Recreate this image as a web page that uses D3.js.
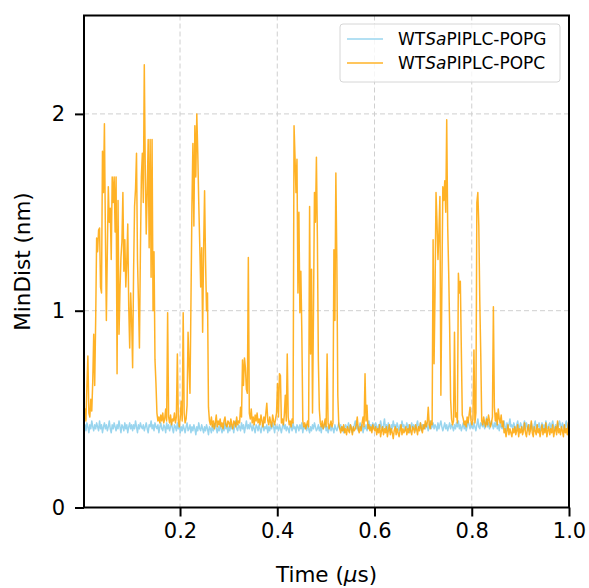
<!DOCTYPE html>
<html lang="en">
<head>
    <meta charset="UTF-8">
    <style>
        body { margin: 0; background: #fff; }
        svg text { font-family: "DejaVu Sans", sans-serif; fill: #000; }
    </style>
    <script src="https://d3js.org/d3.v7.min.js"></script>
</head>
<body>
    <div id="chart"></div>

    <script>
        // sampling of the trajectories (μs)
        var tStart = 0.0025;
        var tStep = 0.002;

        var xTicks = [0.2, 0.4, 0.6, 0.8, 1.0];
        var yTicks = [0, 1, 2];

        // MinDist (nm), POPG membrane
        var popg = [
            0.40,0.42,0.39,0.43,0.41,0.38,0.42,0.40,0.44,0.41,
            0.39,0.42,0.40,0.43,0.41,0.39,0.44,0.40,0.42,0.38,
            0.41,0.43,0.40,0.42,0.39,0.41,0.44,0.40,0.38,0.42,
            0.40,0.43,0.41,0.39,0.42,0.40,0.44,0.41,0.38,0.42,
            0.41,0.39,0.43,0.40,0.42,0.38,0.41,0.43,0.40,0.42,
            0.39,0.42,0.40,0.44,0.41,0.38,0.42,0.40,0.43,0.41,
            0.40,0.42,0.39,0.41,0.43,0.40,0.38,0.42,0.41,0.44,
            0.40,0.42,0.39,0.43,0.41,0.40,0.42,0.38,0.41,0.43,
            0.40,0.39,0.42,0.41,0.38,0.43,0.40,0.42,0.39,0.41,
            0.43,0.40,0.38,0.42,0.41,0.39,0.43,0.40,0.42,0.38,
            0.41,0.39,0.42,0.40,0.38,0.41,0.43,0.39,0.40,0.42,
            0.38,0.41,0.39,0.42,0.40,0.37,0.41,0.39,0.43,0.40,
            0.39,0.42,0.40,0.38,0.41,0.39,0.42,0.40,0.37,0.41,
            0.40,0.38,0.42,0.39,0.41,0.43,0.40,0.38,0.41,0.39,
            0.42,0.40,0.38,0.41,0.39,0.43,0.40,0.42,0.38,0.41,
            0.39,0.42,0.40,0.41,0.38,0.42,0.44,0.40,0.39,0.42,
            0.41,0.39,0.43,0.40,0.42,0.38,0.41,0.44,0.40,0.42,
            0.40,0.43,0.41,0.39,0.42,0.40,0.38,0.42,0.41,0.39,
            0.42,0.40,0.38,0.41,0.43,0.39,0.41,0.40,0.42,0.38,
            0.41,0.39,0.42,0.40,0.43,0.41,0.38,0.42,0.40,0.41,
            0.39,0.42,0.40,0.38,0.41,0.43,0.40,0.42,0.39,0.41,
            0.40,0.38,0.42,0.41,0.39,0.43,0.40,0.41,0.38,0.42,
            0.41,0.39,0.42,0.40,0.43,0.38,0.41,0.40,0.42,0.39,
            0.42,0.40,0.38,0.41,0.39,0.42,0.40,0.43,0.41,0.39,
            0.40,0.42,0.39,0.41,0.38,0.42,0.40,0.41,0.43,0.39,
            0.41,0.38,0.40,0.42,0.39,0.41,0.40,0.38,0.42,0.40,
            0.39,0.41,0.43,0.40,0.42,0.39,0.41,0.38,0.40,0.42,
            0.41,0.40,0.43,0.39,0.42,0.41,0.38,0.40,0.42,0.44,
            0.40,0.42,0.39,0.41,0.43,0.40,0.42,0.38,0.41,0.40,
            0.42,0.39,0.41,0.44,0.40,0.42,0.39,0.43,0.41,0.40,
            0.43,0.41,0.39,0.42,0.40,0.44,0.41,0.39,0.42,0.45,
            0.40,0.42,0.39,0.43,0.41,0.38,0.42,0.40,0.44,0.41,
            0.42,0.40,0.43,0.41,0.39,0.42,0.40,0.44,0.41,0.42,
            0.39,0.41,0.43,0.40,0.42,0.38,0.41,0.43,0.40,0.42,
            0.41,0.39,0.42,0.44,0.40,0.41,0.43,0.39,0.42,0.40,
            0.42,0.40,0.43,0.41,0.39,0.42,0.44,0.40,0.41,0.43,
            0.40,0.42,0.41,0.39,0.43,0.40,0.42,0.44,0.41,0.39,
            0.41,0.43,0.40,0.42,0.39,0.41,0.43,0.40,0.42,0.41,
            0.39,0.42,0.40,0.43,0.41,0.44,0.40,0.42,0.39,0.41,
            0.43,0.40,0.42,0.39,0.41,0.44,0.42,0.40,0.43,0.41,
            0.40,0.43,0.41,0.39,0.42,0.45,0.41,0.40,0.43,0.42,
            0.41,0.44,0.40,0.42,0.46,0.41,0.43,0.40,0.42,0.44,
            0.42,0.40,0.43,0.41,0.44,0.40,0.42,0.39,0.43,0.41,
            0.40,0.42,0.44,0.41,0.39,0.43,0.40,0.42,0.45,0.41,
            0.42,0.40,0.43,0.41,0.39,0.42,0.44,0.40,0.41,0.43,
            0.41,0.39,0.42,0.44,0.40,0.43,0.41,0.39,0.42,0.40,
            0.43,0.41,0.39,0.42,0.44,0.40,0.42,0.41,0.43,0.39,
            0.41,0.43,0.40,0.42,0.39,0.44,0.41,0.40,0.42,0.43,
            0.40,0.42,0.44,0.41,0.39,0.42,0.40,0.43,0.41,0.44,
            0.42,0.40,0.43,0.41,0.39,0.42,0.44,0.40,0.42,0.41
        ];

        // MinDist (nm), POPC membrane
        var popc = [
            0.45,0.50,0.44,0.62,0.77,0.48,0.46,0.55,0.49,0.64,
            0.88,0.62,0.95,1.37,1.30,1.41,1.42,1.12,1.09,1.81,
            1.60,1.95,1.40,0.95,1.30,1.63,1.45,1.52,1.26,1.68,
            1.55,1.68,1.40,1.68,0.68,1.56,0.88,1.10,1.27,1.35,
            1.60,1.20,1.36,1.12,1.25,1.44,1.02,0.81,1.09,0.95,
            0.71,1.20,1.53,1.62,1.80,1.26,1.05,0.81,1.30,1.68,
            1.80,1.55,2.25,1.72,1.39,1.60,1.87,1.32,1.87,1.17,
            1.87,1.00,1.30,0.75,0.63,0.48,0.44,0.46,0.43,0.47,
            0.44,0.48,0.43,0.45,0.50,0.44,0.99,0.46,0.43,0.47,
            0.42,0.45,0.44,0.48,0.43,0.46,0.78,0.44,0.41,0.46,
            0.54,0.44,0.99,0.48,0.43,0.45,0.52,0.89,0.73,0.58,
            1.05,1.53,1.85,1.43,1.94,1.68,2.00,1.80,1.55,1.34,
            1.12,1.32,0.89,1.31,1.61,1.25,1.00,1.09,0.51,0.44,
            0.42,0.46,0.41,0.44,0.40,0.43,0.47,0.41,0.44,0.42,
            0.45,0.41,0.43,0.40,0.44,0.46,0.42,0.41,0.44,0.43,
            0.41,0.45,0.42,0.40,0.44,0.43,0.41,0.46,0.42,0.44,
            0.43,0.51,0.46,0.75,0.62,0.76,0.71,0.60,0.58,1.27,
            0.48,0.45,0.50,0.43,0.46,0.42,0.47,0.44,0.48,0.43,
            0.45,0.42,0.47,0.44,0.41,0.46,0.43,0.48,0.53,0.44,
            0.42,0.46,0.43,0.41,0.47,0.44,0.42,0.45,0.48,0.63,
            0.46,0.68,0.67,0.43,0.45,0.42,0.47,0.57,0.44,0.78,
            0.46,0.42,0.44,0.41,0.45,0.43,1.94,1.78,1.60,1.77,
            1.09,1.50,0.99,1.20,0.89,0.44,0.41,0.43,0.40,0.42,
            0.44,0.41,1.53,0.78,1.21,0.48,1.00,1.60,1.45,1.78,
            1.37,0.75,0.50,0.43,0.41,0.44,0.40,0.42,0.45,0.41,
            0.78,0.43,0.40,0.42,0.44,0.41,0.43,1.31,0.95,1.70,
            1.26,0.57,0.42,0.40,0.38,0.41,0.39,0.42,0.38,0.40,
            0.37,0.41,0.39,0.38,0.42,0.40,0.37,0.41,0.39,0.40,
            0.42,0.46,0.40,0.38,0.41,0.39,0.43,0.46,0.41,0.68,
            0.44,0.52,0.40,0.42,0.39,0.41,0.38,0.42,0.40,0.39,
            0.41,0.37,0.40,0.38,0.42,0.36,0.39,0.41,0.37,0.40,
            0.38,0.41,0.36,0.39,0.42,0.37,0.40,0.38,0.35,0.39,
            0.41,0.37,0.40,0.38,0.36,0.39,0.42,0.37,0.40,0.38,
            0.39,0.41,0.37,0.40,0.38,0.42,0.39,0.37,0.41,0.40,
            0.38,0.42,0.40,0.37,0.41,0.39,0.43,0.40,0.38,0.42,
            0.40,0.44,0.41,0.43,0.51,0.42,0.40,0.44,0.42,1.36,
            0.73,1.10,1.60,1.45,1.26,1.40,1.58,0.57,1.10,1.63,
            1.56,1.66,1.50,1.97,1.43,1.20,0.92,0.55,0.45,0.42,
            0.44,0.89,0.46,0.48,0.43,1.19,1.09,1.15,0.81,0.47,
            0.45,0.42,0.44,0.41,0.46,0.43,0.47,0.51,0.44,0.42,
            0.45,0.80,0.43,0.48,1.55,1.60,1.43,1.05,0.78,0.44,
            0.42,0.46,0.43,0.41,0.45,0.42,0.47,0.44,0.41,0.43,
            0.46,1.02,0.51,0.44,0.48,0.42,0.50,0.45,0.43,0.47,
            0.41,0.44,0.38,0.40,0.36,0.39,0.42,0.37,0.40,0.38,
            0.36,0.40,0.38,0.41,0.37,0.39,0.42,0.36,0.40,0.38,
            0.41,0.37,0.39,0.43,0.38,0.36,0.40,0.42,0.37,0.39,
            0.44,0.38,0.36,0.41,0.39,0.37,0.42,0.38,0.40,0.36,
            0.39,0.42,0.37,0.40,0.38,0.43,0.36,0.39,0.41,0.37,
            0.40,0.38,0.42,0.36,0.39,0.41,0.37,0.44,0.38,0.40,
            0.37,0.41,0.39,0.36,0.42,0.38,0.40,0.37,0.43,0.39
        ];

        var series = [
            { prefix: "WT", italic: "Sa", suffix: "PIPLC-POPG", values: popg, color: "#87ceeb" },
            { prefix: "WT", italic: "Sa", suffix: "PIPLC-POPC", values: popc, color: "#ffa500" }
        ];

        var W = 589, H = 588;
        var margin = { top: 15.5, right: 20, bottom: 80.5, left: 84 };
        var width = W - margin.left - margin.right;
        var height = H - margin.top - margin.bottom;

        var svg = d3.select("#chart").append("svg")
            .attr("width", W)
            .attr("height", H);

        var g = svg.append("g")
            .attr("transform", "translate(" + margin.left + "," + margin.top + ")");

        var x = d3.scaleLinear().domain([0.0025, 1.0]).range([0, width]);
        var y = d3.scaleLinear().domain([0, 2.5]).range([height, 0]);

        // grid
        g.append("g").selectAll("line")
            .data(xTicks.filter(d => d < 1))
            .enter().append("line")
            .attr("x1", d => x(d)).attr("x2", d => x(d))
            .attr("y1", 0).attr("y2", height)
            .attr("stroke", "#cfcfcf").attr("stroke-width", 1)
            .attr("stroke-dasharray", "5,3");
        g.append("g").selectAll("line")
            .data(yTicks.filter(d => d > 0))
            .enter().append("line")
            .attr("x1", 0).attr("x2", width)
            .attr("y1", d => y(d)).attr("y2", d => y(d))
            .attr("stroke", "#cfcfcf").attr("stroke-width", 1)
            .attr("stroke-dasharray", "5,3");

        g.append("clipPath").attr("id", "clip")
            .append("rect").attr("width", width).attr("height", height);

        var line = d3.line()
            .x((d, i) => x(tStart + i * tStep))
            .y(d => y(d));

        series.forEach(function(s) {
            g.append("path")
                .datum(s.values)
                .attr("clip-path", "url(#clip)")
                .attr("fill", "none")
                .attr("stroke", s.color)
                .attr("stroke-opacity", 0.85)
                .attr("stroke-width", 1.5)
                .attr("stroke-linejoin", "round")
                .attr("d", line);
        });

        // axes
        var xAxis = g.append("g")
            .attr("transform", "translate(0," + height + ")")
            .call(d3.axisBottom(x).tickValues(xTicks).tickFormat(d3.format(".1f")).tickSize(9).tickPadding(7));
        var yAxis = g.append("g")
            .call(d3.axisLeft(y).tickValues(yTicks).tickFormat(d3.format("d")).tickSize(9).tickPadding(10));

        [xAxis, yAxis].forEach(function(a) {
            a.select(".domain").remove();
            a.selectAll(".tick line").attr("stroke", "#000").attr("stroke-width", 2);
            a.selectAll(".tick text").style("font-size", "21px").style("font-family", "DejaVu Sans");
        });

        // frame
        g.append("rect")
            .attr("width", width).attr("height", height)
            .attr("fill", "none").attr("stroke", "#000").attr("stroke-width", 2);

        // axis labels
        var xl = svg.append("text")
            .attr("x", margin.left + width / 2)
            .attr("y", 582)
            .attr("text-anchor", "middle")
            .style("font-size", "21.5px");
        xl.append("tspan").text("Time (");
        xl.append("tspan").style("font-style", "italic").text("\u03bc");
        xl.append("tspan").text("s)");

        svg.append("text")
            .attr("transform", "translate(30," + (margin.top + height / 2) + ") rotate(-90)")
            .attr("text-anchor", "middle")
            .style("font-size", "21.5px")
            .text("MinDist (nm)");

        // legend
        var lg = svg.append("g").attr("transform", "translate(340,24)");
        lg.append("rect")
            .attr("width", 220).attr("height", 58)
            .attr("rx", 3)
            .attr("fill", "#fff").attr("fill-opacity", 0.8)
            .attr("stroke", "#d6d6d6").attr("stroke-width", 1);

        series.forEach(function(s, i) {
            var cy = 15 + i * 24;
            lg.append("line")
                .attr("x1", 7).attr("x2", 43)
                .attr("y1", cy).attr("y2", cy)
                .attr("stroke", s.color).attr("stroke-opacity", 0.85).attr("stroke-width", 1.3);
            var t = lg.append("text")
                .attr("x", 58).attr("y", cy + 6)
                .style("font-size", "17px");
            t.append("tspan").text(s.prefix);
            t.append("tspan").style("font-style", "italic").text(s.italic);
            t.append("tspan").text(s.suffix);
        });
    </script>
</body>
</html>
